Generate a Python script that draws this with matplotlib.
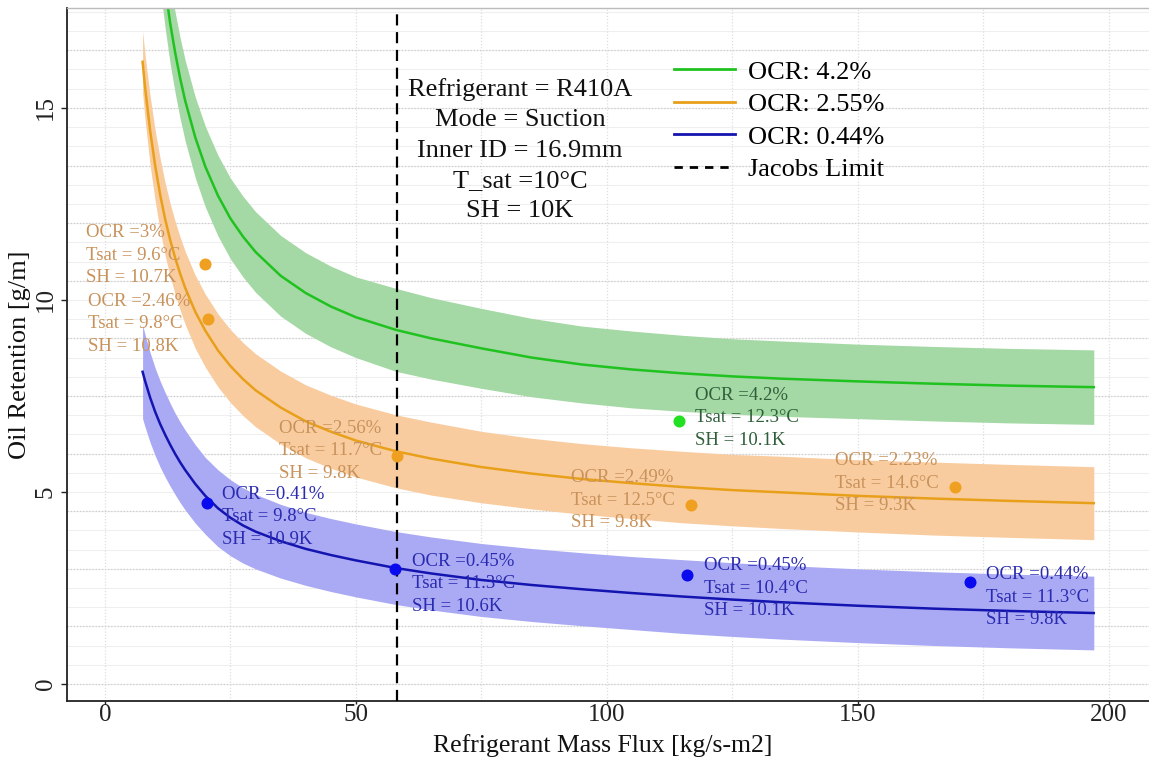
import numpy as np
import matplotlib
matplotlib.use("Agg")
import matplotlib.pyplot as plt
from matplotlib.lines import Line2D

plt.rcParams['font.family'] = ['Liberation Serif', 'DejaVu Serif']

# ---- fitted curves and their band half-widths ----
green_x = [11, 12, 13, 14, 15, 16, 18, 20, 22.5, 25, 27.5, 30, 35, 40, 45, 50,
           58, 65, 75, 85, 95, 105, 115, 125, 135, 150, 165, 180, 197]
green_y = [19.2, 18.12, 17.2, 16.43, 15.76, 15.18, 14.23, 13.47, 12.72, 12.12, 11.65, 11.25, 10.63, 10.18, 9.83, 9.55,
           9.22, 9.0, 8.74, 8.5, 8.32, 8.19, 8.09, 8.01, 7.95, 7.88, 7.82, 7.77, 7.73]
green_band = [1.05, 1.05, 1.05, 1.05, 1.05, 1.05, 1.05, 1.05, 1.05, 1.05, 1.05, 1.05, 1.05, 1.05, 1.05, 1.05,
              1.08, 1.06, 1.04, 1.02, 1.0, 1.0, 0.99, 0.98, 0.98, 0.97, 0.97, 0.97, 0.97]

orange_x = [7.5, 8, 9, 10, 11, 12, 13, 14, 15, 16, 18, 20, 22.5, 25, 27.5, 30, 35, 40, 45, 50,
            58, 65, 75, 85, 95, 105, 115, 125, 135, 150, 165, 180, 197]
orange_y = [16.2, 15.53, 14.41, 13.5, 12.74, 12.1, 11.56, 11.09, 10.68, 10.31, 9.69, 9.2, 8.69, 8.28, 7.94, 7.65, 7.2, 6.84, 6.57, 6.34,
            6.06, 5.87, 5.65, 5.48, 5.34, 5.23, 5.13, 5.05, 4.99, 4.9, 4.83, 4.77, 4.71]
orange_band = [0.8, 0.85, 0.9, 0.92, 0.94, 0.95, 0.95, 0.95, 0.95, 0.95, 0.95, 0.95, 0.95, 0.95, 0.95, 0.95, 0.95, 0.95, 0.95, 0.95,
               0.95, 0.95, 0.93, 0.92, 0.92, 0.92, 0.93, 0.93, 0.94, 0.94, 0.95, 0.95, 0.95]

blue_x = [7.5, 8, 9, 10, 11, 12, 13, 14, 15, 16, 18, 20, 22.5, 25, 27.5, 30, 35, 40, 45, 50,
          58, 65, 75, 85, 95, 105, 115, 125, 135, 150, 165, 180, 197]
blue_y = [8.13, 7.89, 7.46, 7.09, 6.77, 6.49, 6.23, 5.99, 5.77, 5.57, 5.21, 4.9, 4.58, 4.33, 4.13, 3.97, 3.72, 3.52, 3.36, 3.22,
          3.02, 2.88, 2.71, 2.58, 2.47, 2.37, 2.28, 2.2, 2.13, 2.04, 1.965, 1.905, 1.85]
blue_band = [1.22, 1.2, 1.17, 1.14, 1.12, 1.1, 1.08, 1.06, 1.05, 1.04, 1.02, 1.0, 1.0, 0.99, 0.98, 0.97, 0.96, 0.95, 0.95, 0.95,
             0.95, 0.95, 0.95, 0.95, 0.95, 0.95, 0.96, 0.96, 0.96, 0.96, 0.96, 0.96, 0.96]

legend_labels = ["OCR: 4.2%", "OCR: 2.55%", "OCR: 0.44%", "Jacobs Limit"]
jacobs_limit = 58.2

# ---- measured points ----
pt_series = ["orange", "orange", "orange", "orange", "orange", "green", "blue", "blue", "blue", "blue"]
pt_x = [19.9, 20.6, 58.2, 116.7, 169.3, 114.4, 20.4, 57.8, 116.0, 172.3]
pt_y = [10.94, 9.5, 5.94, 4.66, 5.14, 6.85, 4.72, 2.99, 2.85, 2.66]
pt_ocr = ["3%", "2.46%", "2.56%", "2.49%", "2.23%", "4.2%", "0.41%", "0.45%", "0.45%", "0.44%"]
pt_tsat = ["9.6", "9.8", "11.7", "12.5", "14.6", "12.3", "9.8", "11.3", "10.4", "11.3"]
pt_sh = ["10.7", "10.8", "9.8", "9.8", "9.3", "10.1", "10.9", "10.6", "10.1", "9.8"]
# label block placement (left edge, middle line) relative to its point
lab_dx = [-23.7, -24.0, -23.6, -23.9, -23.9, 3.1, 3.0, 3.3, 3.3, 3.3]
lab_dy = [0.22, -0.12, 0.13, 0.13, 0.09, 0.08, -0.36, -0.38, -0.35, -0.40]

info_text = "Refrigerant = R410A\nMode = Suction\nInner ID = 16.9mm\nT_sat =10\u00b0C\nSH = 10K"

line_col = {"green": "#1fc21f", "orange": "#e8a01a", "blue": "#1414b0"}
fill_col = {"green": "#a4d8a4", "orange": "#f9cca0", "blue": "#aaaaf4"}
pt_col = {"green": "#22e022", "orange": "#f0a020", "blue": "#0a0aee"}
txt_col = {"green": "#2f5f3a", "orange": "#c8925a", "blue": "#2a2ab0"}

fig = plt.figure(figsize=(11.49, 7.58), dpi=100)
# bottom spine at ~57px from the bottom, top at 8px from the top
ax = fig.add_axes([0.058, 57 / 758, 0.942, (758 - 57 - 8) / 758])
ax.set_xlim(-7.63, 208)
ax.set_ylim(-0.44, 17.6)

# grid
for gy in np.arange(0, 17.6, 0.5):
    ax.axhline(gy, color="#efefef", lw=0.8, zorder=0)
for gy in np.arange(0, 17.6, 1.5):
    ax.axhline(gy, color="#cccccc", lw=0.9, ls=(0, (1, 1.5)), zorder=0)
for gx in np.arange(0, 201, 25):
    ax.axvline(gx, color="#dedede", lw=0.9, ls=(0, (1, 1.5)), zorder=0)

curves = [
    ("green", green_x, green_y, green_band),
    ("orange", orange_x, orange_y, orange_band),
    ("blue", blue_x, blue_y, blue_band),
]
for name, cx, cy, band in curves:
    cy = np.array(cy)
    band = np.array(band)
    ax.fill_between(cx, cy - band, cy + band, color=fill_col[name], lw=0, zorder=1)
    ax.plot(cx, cy, color=line_col[name], lw=1.8, zorder=2)

ax.axvline(jacobs_limit, color="black", lw=1.6, ls=(0, (5, 3)), zorder=3)

for i in range(len(pt_x)):
    s = pt_series[i]
    ax.scatter(pt_x[i], pt_y[i], s=75, color=pt_col[s], zorder=4, linewidths=0)
    ax.text(pt_x[i] + lab_dx[i], pt_y[i] + lab_dy[i],
            f"OCR ={pt_ocr[i]}\nTsat = {pt_tsat[i]}\u00b0C\nSH = {pt_sh[i]}K",
            color=txt_col[s], fontsize=13.5, ha="left", va="center",
            linespacing=1.42, zorder=5)

ax.text(82.7, 13.9, info_text, ha="center", va="center", fontsize=19,
        linespacing=1.48, multialignment="center", color="#111111", zorder=5)

handles = [Line2D([], [], color=line_col["green"], lw=2),
           Line2D([], [], color=line_col["orange"], lw=2),
           Line2D([], [], color=line_col["blue"], lw=2),
           Line2D([], [], color="black", lw=2, ls=(0, (3, 2.5)))]
ax.legend(handles, legend_labels, loc="upper left", bbox_to_anchor=(0.575, 0.938),
          bbox_transform=fig.transFigure, frameon=False, fontsize=19,
          handlelength=2.3, handletextpad=0.5, labelspacing=0.34, borderpad=0)

# spines / ticks
ax.spines["right"].set_visible(False)
ax.spines["top"].set_color("#bbbbbb")
ax.spines["top"].set_linewidth(1.0)
for sp in ("left", "bottom"):
    ax.spines[sp].set_color("#222222")
    ax.spines[sp].set_linewidth(1.3)

ax.set_xticks([0, 50, 100, 150, 200])
ax.set_yticks([0, 5, 10, 15])
ax.tick_params(axis="both", labelsize=18, colors="#222222", width=1)
ax.tick_params(axis="x", pad=0, length=2.5)
ax.tick_params(axis="y", pad=3, length=4)
for lab in ax.get_yticklabels():
    lab.set_rotation(90)
    lab.set_va("center")

ax.set_xlabel("Refrigerant Mass Flux [kg/s-m2]", fontsize=18.5, color="#111111", va="bottom")
ax.xaxis.set_label_coords(0.495, -56 / 693)
ax.set_ylabel("Oil Retention [g/m]", fontsize=19, labelpad=3, color="#111111")

fig.savefig("out.png", dpi=100)
